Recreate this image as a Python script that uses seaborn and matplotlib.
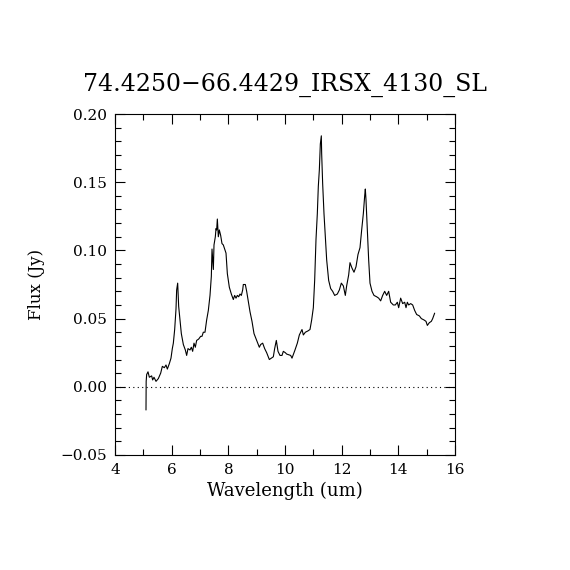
import numpy as np
import pandas as pd
import matplotlib
matplotlib.use("Agg")
import matplotlib.pyplot as plt
import seaborn as sns
from matplotlib.ticker import MultipleLocator

wavelength = [5.094, 5.100, 5.118, 5.165, 5.212, 5.294, 5.329, 5.376, 5.447, 5.529, 5.612, 5.671, 5.741,
              5.800, 5.847, 5.918, 5.976, 6.023, 6.059, 6.106, 6.153, 6.176, 6.212, 6.247, 6.294,
              6.341, 6.412, 6.482, 6.529, 6.576, 6.647, 6.694, 6.741, 6.788, 6.835, 6.882, 6.953,
              7.023, 7.070, 7.117, 7.176, 7.235, 7.294, 7.353, 7.400, 7.424, 7.471, 7.494, 7.541,
              7.565, 7.588, 7.612, 7.647, 7.682, 7.729, 7.776, 7.823, 7.871, 7.918, 7.965, 8.035,
              8.106, 8.176, 8.223, 8.271, 8.318, 8.365, 8.412, 8.459, 8.506, 8.529, 8.600, 8.647,
              8.694, 8.765, 8.835, 8.906, 9.000, 9.094, 9.141, 9.212, 9.282, 9.353, 9.447, 9.518,
              9.588, 9.635, 9.694, 9.753, 9.823, 9.894, 9.941, 10.012,
              10.059, 10.200, 10.247, 10.353, 10.435, 10.506, 10.600, 10.647, 10.718, 10.812,
              10.882, 10.941, 11.000, 11.047, 11.094, 11.141, 11.176, 11.212, 11.247, 11.282,
              11.294, 11.329, 11.376, 11.424, 11.471, 11.541, 11.612, 11.682, 11.753, 11.847,
              11.918, 11.988, 12.059, 12.129, 12.176, 12.247, 12.294, 12.365, 12.435, 12.506,
              12.576, 12.647, 12.706, 12.765, 12.812, 12.835, 12.859, 12.906, 12.953, 13.000,
              13.071, 13.141, 13.235, 13.306, 13.376, 13.447, 13.518, 13.588, 13.659, 13.729,
              13.823, 13.894, 13.965, 14.012, 14.082, 14.153, 14.224, 14.271, 14.318, 14.365,
              14.435, 14.506, 14.576, 14.647, 14.741, 14.812, 14.906, 14.976, 15.024, 15.094,
              15.165, 15.212, 15.282]
flux = [-0.017, 0.004, 0.009, 0.011, 0.007, 0.008, 0.005, 0.007, 0.004, 0.006, 0.010, 0.015, 0.014,
        0.016, 0.013, 0.017, 0.021, 0.028, 0.032, 0.042, 0.057, 0.071, 0.076, 0.059, 0.049,
        0.039, 0.031, 0.027, 0.023, 0.028, 0.027, 0.029, 0.026, 0.032, 0.029, 0.034, 0.035,
        0.037, 0.037, 0.040, 0.040, 0.049, 0.056, 0.067, 0.081, 0.101, 0.086, 0.104, 0.110,
        0.116, 0.115, 0.123, 0.110, 0.115, 0.111, 0.105, 0.104, 0.101, 0.098, 0.083, 0.073,
        0.068, 0.064, 0.067, 0.065, 0.067, 0.066, 0.068, 0.067, 0.071, 0.075, 0.075, 0.070,
        0.064, 0.055, 0.048, 0.039, 0.034, 0.029, 0.031, 0.032, 0.028, 0.025, 0.020, 0.021,
        0.022, 0.028, 0.034, 0.026, 0.023, 0.023, 0.026, 0.025,
        0.024, 0.023, 0.021, 0.027, 0.032, 0.038, 0.042, 0.038, 0.040, 0.041,
        0.042, 0.049, 0.058, 0.078, 0.108, 0.127, 0.147, 0.159, 0.178, 0.184,
        0.171, 0.149, 0.127, 0.110, 0.093, 0.078, 0.072, 0.070, 0.067, 0.068,
        0.071, 0.076, 0.074, 0.067, 0.074, 0.082, 0.091, 0.087, 0.084, 0.088,
        0.097, 0.102, 0.115, 0.127, 0.140, 0.145, 0.137, 0.115, 0.093, 0.076,
        0.070, 0.067, 0.066, 0.065, 0.063, 0.067, 0.070, 0.067, 0.070, 0.062,
        0.060, 0.060, 0.062, 0.058, 0.065, 0.061, 0.062, 0.058, 0.062, 0.060,
        0.061, 0.060, 0.056, 0.053, 0.052, 0.050, 0.049, 0.048, 0.045, 0.047,
        0.048, 0.050, 0.054]

title = "74.4250\u221266.4429_IRSX_4130_SL"
xlabel = "Wavelength (um)"
ylabel = "Flux (Jy)"

sns.set_style("ticks")
plt.rcParams['font.family'] = ['DejaVu Serif']
plt.rcParams['axes.unicode_minus'] = True
plt.rcParams['text.color'] = 'black'
plt.rcParams['axes.labelcolor'] = 'black'

fig = plt.figure(figsize=(5.7, 5.7), dpi=100)
ax = fig.add_axes([115/570, 115/570, 340/570, 341/570])

df = pd.DataFrame({"w": wavelength, "f": flux})
sns.lineplot(data=df, x="w", y="f", sort=False, ax=ax, color="black", linewidth=0.8, estimator=None)
ax.axhline(0.0, color="black", linestyle=(0, (1, 3)), linewidth=0.8)

ax.set_xlim(4, 16)
ax.set_ylim(-0.05, 0.20)
ax.xaxis.set_major_locator(MultipleLocator(2))
ax.xaxis.set_minor_locator(MultipleLocator(1))
ax.yaxis.set_major_locator(MultipleLocator(0.05))
ax.yaxis.set_minor_locator(MultipleLocator(0.01))
ax.yaxis.set_major_formatter(matplotlib.ticker.FuncFormatter(lambda v, p: f"{v:.2f}".replace("-", "\u2212")))
ax.tick_params(which="both", direction="in", top=True, right=True, color="black", width=0.8,
               labelsize=11, labelcolor="black", pad=6)
ax.tick_params(which="major", length=7)
ax.tick_params(which="minor", length=4)
for s in ax.spines.values():
    s.set_color("black")
    s.set_linewidth(0.8)

ax.set_xlabel(xlabel, fontsize=13, labelpad=3, color="black")
ax.set_ylabel(ylabel, fontsize=12, labelpad=11, color="black")
ax.set_title(title, fontsize=17, pad=17, color="black")

fig.savefig("out.png", dpi=100, facecolor="white")
